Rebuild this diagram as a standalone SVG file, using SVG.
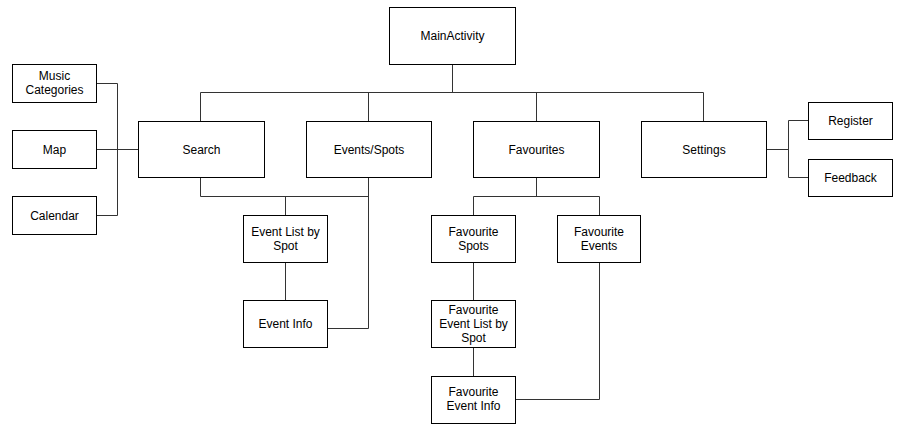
<svg xmlns="http://www.w3.org/2000/svg" width="907" height="430" viewBox="0 0 907 430">
<style>
.n rect{fill:#fff;stroke:#000;stroke-width:1}
.n text{font-family:"Liberation Sans",Arial,sans-serif;font-size:12px;fill:#000;text-anchor:middle;dominant-baseline:central}
#connectors path{fill:none;stroke:#333;stroke-width:1}
</style>
<rect width="907" height="430" fill="#fff"/>
<g id="connectors">
<path d="M452.5 64V92.5M200.5 92.5H703.5M200.5 92.5V121M368.5 92.5V121M536.5 92.5V121M703.5 92.5V121"/>
<path d="M96 83.5H117.5V215.5H96M96 149.5H138"/>
<path d="M766 149.5H788.5M788.5 120.5V177.5M788.5 120.5H808M788.5 177.5H808"/>
<path d="M200.5 177V196.5H368.5M285.5 196.5V215M368.5 177V328.5H327M285.5 262V300"/>
<path d="M536.5 177V196.5M473.5 196.5H599.5M473.5 196.5V215M599.5 196.5V215M473.5 262V300M473.5 347V376M599.5 262V399.5H515"/>
</g>
<g id="MainActivity" class="n"><rect x="389.5" y="7.5" width="126" height="57"/><text x="452.5" y="36">MainActivity</text></g>
<g id="MusicCategories" class="n"><rect x="12.5" y="64.5" width="84" height="38"/><text x="54.5" y="76">Music</text><text x="54.5" y="90">Categories</text></g>
<g id="Map" class="n"><rect x="12.5" y="130.5" width="84" height="38"/><text x="54.5" y="149.5">Map</text></g>
<g id="Calendar" class="n"><rect x="12.5" y="196.5" width="84" height="38"/><text x="54.5" y="215.5">Calendar</text></g>
<g id="Search" class="n"><rect x="138.5" y="121.5" width="126" height="56"/><text x="201.5" y="149.5">Search</text></g>
<g id="EventsSpots" class="n"><rect x="306.5" y="121.5" width="125" height="56"/><text x="369" y="149.5">Events/Spots</text></g>
<g id="Favourites" class="n"><rect x="473.5" y="121.5" width="126" height="56"/><text x="536.5" y="149.5">Favourites</text></g>
<g id="Settings" class="n"><rect x="641.5" y="121.5" width="125" height="56"/><text x="704" y="149.5">Settings</text></g>
<g id="Register" class="n"><rect x="808.5" y="102.5" width="84" height="37"/><text x="850.5" y="121">Register</text></g>
<g id="Feedback" class="n"><rect x="808.5" y="159.5" width="84" height="37"/><text x="850.5" y="178">Feedback</text></g>
<g id="EventListBySpot" class="n"><rect x="243.5" y="215.5" width="84" height="47"/><text x="285.5" y="232">Event List by</text><text x="285.5" y="246">Spot</text></g>
<g id="EventInfo" class="n"><rect x="243.5" y="300.5" width="84" height="47"/><text x="285.5" y="324">Event Info</text></g>
<g id="FavouriteSpots" class="n"><rect x="431.5" y="215.5" width="84" height="47"/><text x="473.5" y="232">Favourite</text><text x="473.5" y="246">Spots</text></g>
<g id="FavouriteEvents" class="n"><rect x="557.5" y="215.5" width="83" height="47"/><text x="599" y="232">Favourite</text><text x="599" y="246">Events</text></g>
<g id="FavouriteEventListBySpot" class="n"><rect x="431.5" y="300.5" width="84" height="47"/><text x="473.5" y="310">Favourite</text><text x="473.5" y="324">Event List by</text><text x="473.5" y="338">Spot</text></g>
<g id="FavouriteEventInfo" class="n"><rect x="431.5" y="376.5" width="84" height="47"/><text x="473.5" y="392">Favourite</text><text x="473.5" y="406">Event Info</text></g>
</svg>
